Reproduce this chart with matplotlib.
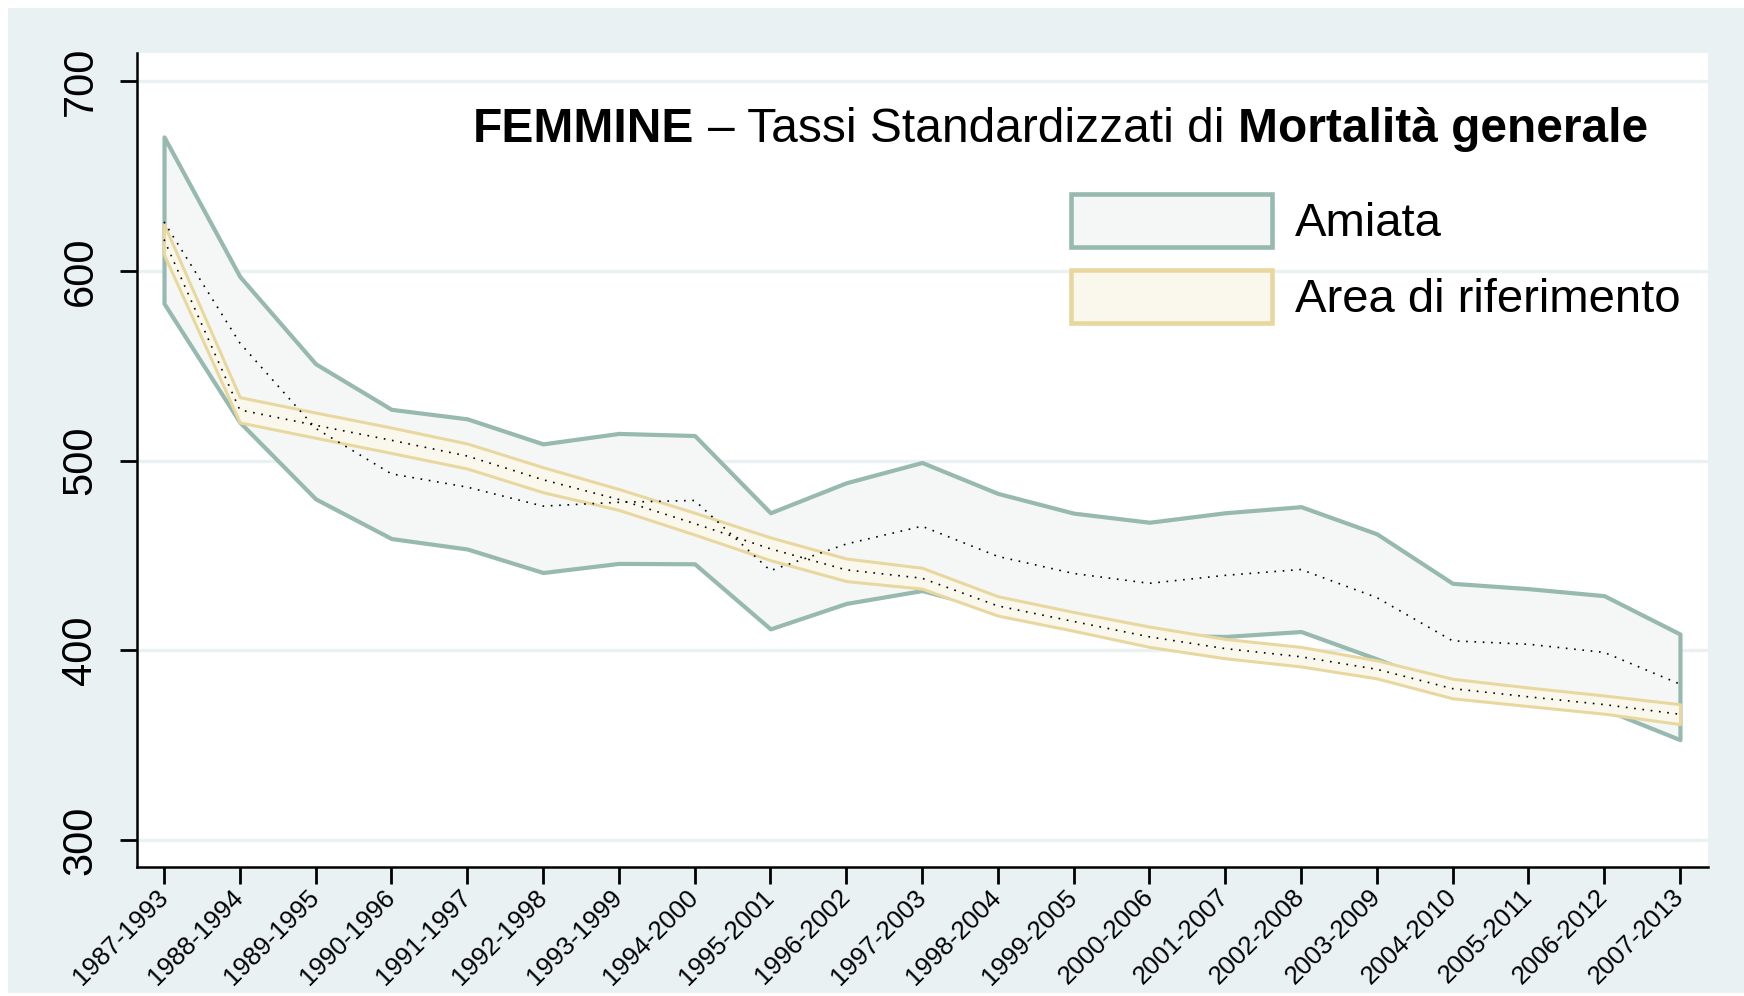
#FEMMINE - tassi standardizzati di mortalita generale
#Amiata vs area di riferimento, bande con intervallo + tasso puntinato

import matplotlib.pyplot as plt
from matplotlib.patches import Patch, Rectangle

plt.rcParams['font.family'] = ['Liberation Sans', 'DejaVu Sans']

#data
periods = ['1987-1993', '1988-1994', '1989-1995', '1990-1996', '1991-1997',
           '1992-1998', '1993-1999', '1994-2000', '1995-2001', '1996-2002',
           '1997-2003', '1998-2004', '1999-2005', '2000-2006', '2001-2007',
           '2002-2008', '2003-2009', '2004-2010', '2005-2011', '2006-2012',
           '2007-2013']

amiata_upper = [670.6, 597.0, 551.0, 527.0, 522.0, 508.8, 514.3, 513.2, 472.5, 488.3, 499.0,
                482.7, 472.3, 467.5, 472.5, 475.7, 461.4, 435.3, 432.5, 428.8, 408.6]
amiata_lower = [582.8, 520.2, 479.8, 458.9, 453.4, 441.0, 445.8, 445.6, 411.3, 424.7, 431.5,
                421.0, 414.0, 408.0, 407.3, 409.9, 395.5, 380.0, 375.0, 369.0, 352.9]
amiata_rate = [625.8, 562.0, 517.0, 493.0, 486.0, 476.0, 478.0, 479.0, 442.0, 456.0, 465.4,
               449.5, 440.5, 435.3, 439.5, 442.6, 427.8, 405.0, 403.2, 398.9, 382.2]

ref_upper = [624.5, 533.4, 525.3, 517.4, 509.0, 496.5, 485.0, 472.5, 459.5, 448.4, 443.5,
             428.5, 420.2, 412.5, 406.0, 401.8, 394.7, 385.0, 380.4, 376.2, 371.6]
ref_lower = [608.5, 520.1, 512.0, 504.0, 495.8, 483.3, 474.0, 461.0, 447.5, 436.5, 432.5,
             418.3, 410.3, 401.8, 395.8, 391.5, 385.2, 374.7, 370.6, 366.6, 361.1]
ref_rate = [616.5, 526.7, 518.6, 510.7, 502.4, 489.9, 479.5, 466.8, 453.5, 442.4, 438.0,
            423.4, 415.2, 407.1, 400.9, 396.6, 390.0, 379.8, 375.5, 371.4, 366.3]

yticks = [300, 400, 500, 600, 700]

#colours
bg = '#e9f1f3'
am_edge = '#97b9b0'
am_fill = '#f4f7f6'
ref_edge = '#e8d8a0'
ref_fill = '#faf8ec'

W, H = 1744, 996
fig = plt.figure(figsize=(W / 100, H / 100), dpi=100, facecolor='white')

#light blue frame behind everything
fig.patches.append(Rectangle((8 / W, 3 / H), 1, 1 - 11 / H, transform=fig.transFigure,
                             facecolor=bg, edgecolor='none', zorder=-10))

ax = fig.add_axes([136.5 / W, 1 - 867 / H, (1708 - 136.5) / W, (867 - 53) / H])
ax.set_facecolor('white')

x = list(range(len(periods)))

ax.fill_between(x, amiata_lower, amiata_upper, facecolor=am_fill, edgecolor=am_edge,
                linewidth=3.0, zorder=2)
ax.fill_between(x, ref_lower, ref_upper, facecolor=ref_fill, edgecolor=ref_edge,
                linewidth=2.2, zorder=3)
ax.plot(x, amiata_rate, color='black', linestyle=(0, (1, 4)), linewidth=1.2, zorder=4)
ax.plot(x, ref_rate, color='black', linestyle=(0, (1, 4)), linewidth=1.2, zorder=4)

#axes
ax.set_xlim(-0.363, 20.37)
ax.set_ylim(285.8, 714.8)
ax.set_yticks(yticks)
ax.set_yticklabels([str(v) for v in yticks], rotation=90, va='center', fontsize=30)
ax.set_xticks(x)
ax.set_xticklabels(periods, rotation=45, ha='right', va='center', rotation_mode='anchor',
                   fontsize=18.5)
ax.tick_params(axis='y', length=12, width=2, pad=14)
ax.tick_params(axis='x', length=12, width=2, pad=7)

ax.grid(axis='y', color=bg, linewidth=2.4, zorder=0)
ax.set_axisbelow(True)
for s in ['top', 'right']:
    ax.spines[s].set_visible(False)
for s in ['left', 'bottom']:
    ax.spines[s].set_linewidth(1.8)

#legend
handles = [Patch(facecolor=am_fill, edgecolor=am_edge, linewidth=3.3, label='Amiata'),
           Patch(facecolor=ref_fill, edgecolor=ref_edge, linewidth=3.3, label='Area di riferimento')]
ax.legend(handles=handles, loc='upper left', bbox_to_anchor=(1071 / W, 1 - 194 / H),
          bbox_transform=fig.transFigure, frameon=False, fontsize=34, borderpad=0,
          borderaxespad=0, handlelength=4.25, handleheight=1.35, handletextpad=0.5,
          labelspacing=0.48)

#title with bold parts, placed piece by piece
fs = 34.5
space = 0.278 * fs * 100 / 72
renderer = fig.canvas.get_renderer()
tx = 473 / W
ty = 1 - 142 / H
parts = [('FEMMINE', 'bold'), ('– Tassi Standardizzati di', 'normal'), ('Mortalità generale', 'bold')]
for s, w in parts:
    t = fig.text(tx, ty, s, fontsize=fs, fontweight=w, va='baseline', ha='left')
    bb = t.get_window_extent(renderer)
    tx = (bb.x1 + space) / W

fig.savefig('out.png', dpi=100, facecolor='white')
